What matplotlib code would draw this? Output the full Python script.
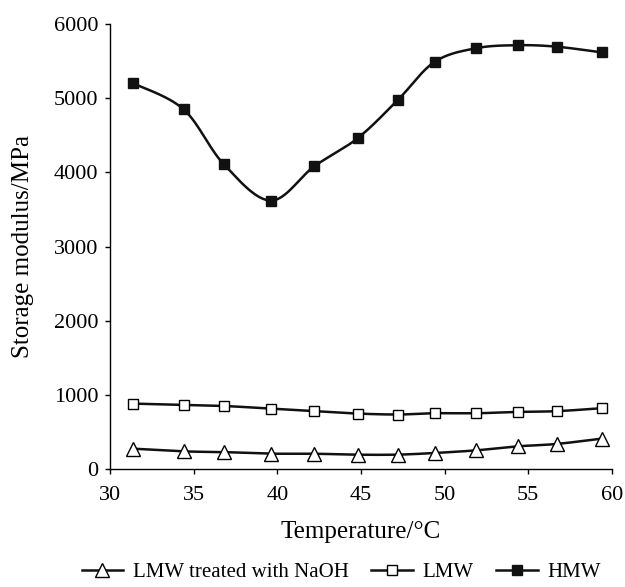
import numpy as np
import matplotlib
matplotlib.use("Agg")
import matplotlib.pyplot as plt
from matplotlib.lines import Line2D

temperature = [31.4, 34.4, 36.8, 39.6, 42.2, 44.8, 47.2, 49.4, 51.9, 54.4, 56.7, 59.4]
hmw = [5200, 4850, 4110, 3620, 4080, 4460, 4975, 5490, 5675, 5715, 5695, 5618]
lmw = [882, 865, 850, 815, 780, 748, 735, 752, 752, 770, 780, 820]
lmw_naoh = [274, 238, 228, 207, 206, 193, 194, 216, 252, 306, 338, 410]

series_labels = ["LMW treated with NaOH", "LMW", "HMW"]
x_ticks = [30, 35, 40, 45, 50, 55, 60]
y_ticks = [0, 1000, 2000, 3000, 4000, 5000, 6000]

plt.rcParams['font.family'] = ['Liberation Serif', 'DejaVu Serif']


def smooth(xs, ys, n=30):
    # Excel-style smoothed line (Catmull-Rom Bezier) through the data points
    P = np.column_stack([xs, ys]).astype(float)
    P = np.vstack([P[0], P, P[-1]])
    out = []
    t = np.linspace(0, 1, n)[:, None]
    for i in range(1, len(P) - 2):
        p0, p1, p2, p3 = P[i - 1], P[i], P[i + 1], P[i + 2]
        c1 = p1 + (p2 - p0) / 6
        c2 = p2 - (p3 - p1) / 6
        seg = ((1 - t) ** 3) * p1 + 3 * ((1 - t) ** 2) * t * c1 + 3 * (1 - t) * t ** 2 * c2 + t ** 3 * p2
        out.append(seg if i == 1 else seg[1:])
    out = np.vstack(out)
    return out[:, 0], out[:, 1]


fig = plt.figure(figsize=(6.25, 5.87), dpi=100)
ax = fig.add_axes([0.176, 0.201, 0.803, 0.758])

styles = [
    (lmw_naoh, dict(marker='^', markerfacecolor='white', markeredgecolor='black', markersize=10, markeredgewidth=1.0)),
    (lmw, dict(marker='s', markerfacecolor='white', markeredgecolor='black', markersize=6.5, markeredgewidth=1.0)),
    (hmw, dict(marker='s', markerfacecolor='#111111', markeredgecolor='#111111', markersize=7.5, markeredgewidth=1.0)),
]

handles = []
for (vals, mk), lab in zip(styles, series_labels):
    sx, sy = smooth(temperature, vals)
    ax.plot(sx, sy, color='#111111', lw=1.8, zorder=2)
    ax.plot(temperature, vals, linestyle='none', zorder=3, **mk)
    handles.append(Line2D([0], [0], color='#111111', lw=1.8, **mk))

ax.set_xlim(30, 60)
ax.set_ylim(0, 6000)
ax.set_xticks(x_ticks)
ax.set_yticks(y_ticks)
ax.spines['top'].set_visible(False)
ax.spines['right'].set_visible(False)
for s in ['left', 'bottom']:
    ax.spines[s].set_linewidth(1.0)
ax.tick_params(direction='out', length=3.5, width=1.0, labelsize=16)
ax.tick_params(axis='x', pad=9)
ax.tick_params(axis='y', pad=5)
ax.set_xlabel('Temperature/°C', fontsize=18, labelpad=11.5)
ax.set_ylabel('Storage modulus/MPa', fontsize=18, labelpad=14)

fig.legend(handles=handles, labels=series_labels, loc='center', bbox_to_anchor=(0.546, 0.025),
           ncol=3, frameon=False, fontsize=15, handlelength=2.0, handletextpad=0.45,
           columnspacing=1.1, borderaxespad=0, borderpad=0)

fig.savefig('out.png', dpi=100)
